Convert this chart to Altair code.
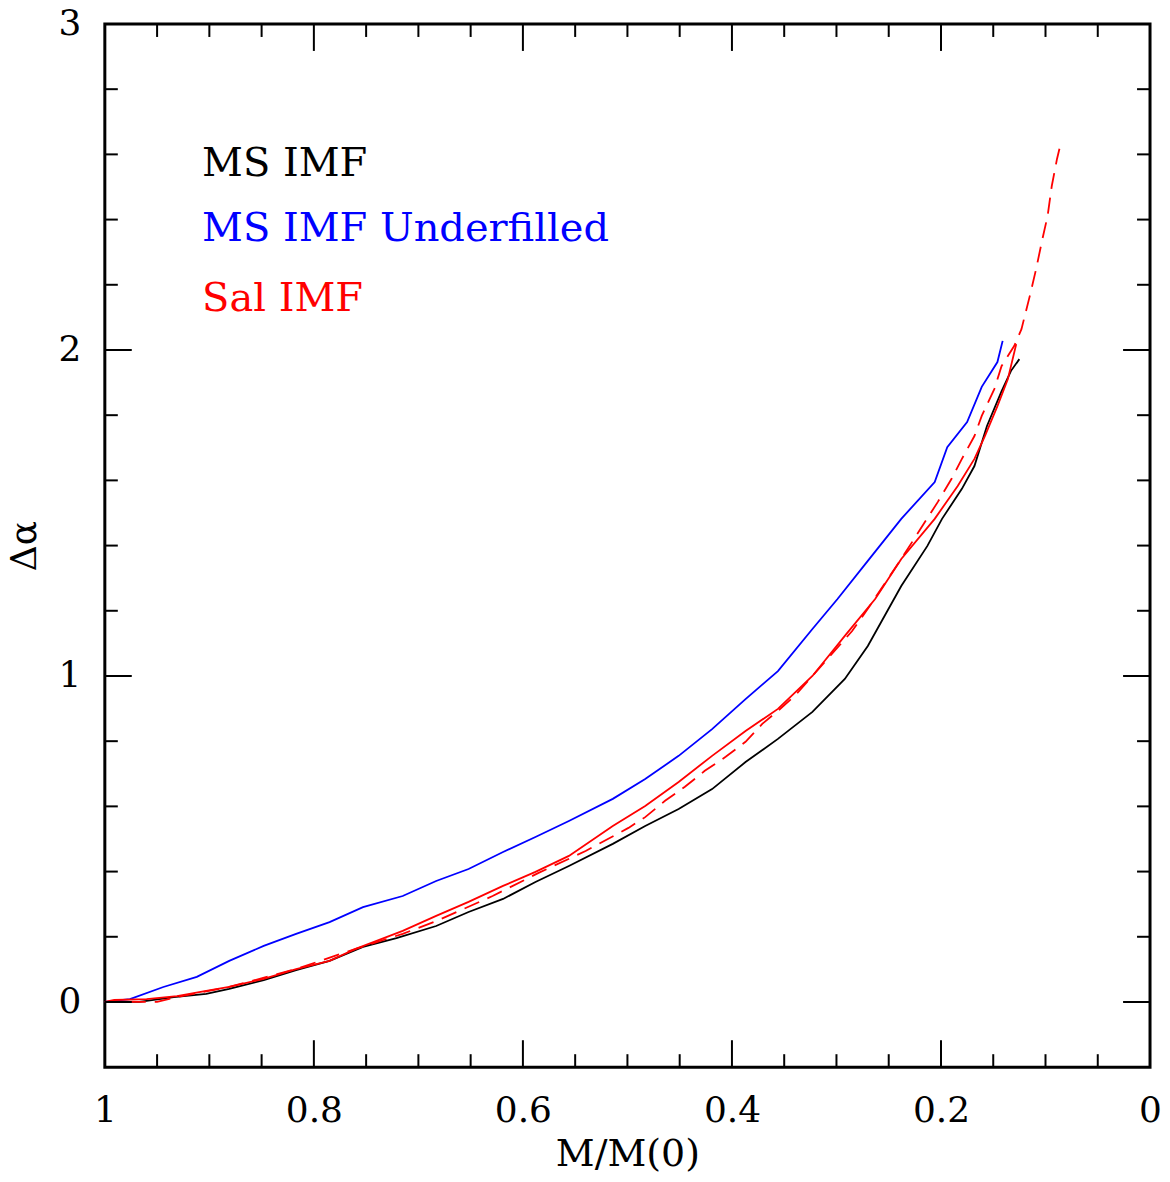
import altair as alt
import pandas as pd

# ---------------- data ----------------
ms_x = [1.0, 0.967, 0.934, 0.903, 0.881, 0.848, 0.817, 0.785, 0.753, 0.721, 0.683, 0.652,
        0.619, 0.588, 0.556, 0.514, 0.483, 0.451, 0.419, 0.387, 0.356, 0.323, 0.292, 0.270,
        0.238, 0.213, 0.199, 0.180, 0.168, 0.156, 0.142, 0.133, 0.125]
ms_y = [0.0, 0.0, 0.015, 0.025, 0.040, 0.067, 0.098, 0.126, 0.169, 0.196, 0.233, 0.276,
        0.316, 0.368, 0.417, 0.485, 0.540, 0.592, 0.653, 0.736, 0.807, 0.890, 0.991, 1.092,
        1.276, 1.399, 1.482, 1.574, 1.644, 1.767, 1.874, 1.936, 1.972]

under_x = [1.0, 0.976, 0.944, 0.912, 0.881, 0.848, 0.817, 0.785, 0.753, 0.715, 0.683, 0.652,
           0.619, 0.588, 0.556, 0.514, 0.483, 0.451, 0.419, 0.387, 0.356, 0.323, 0.299, 0.270,
           0.238, 0.206, 0.194, 0.175, 0.161, 0.146, 0.141]
under_y = [0.0, 0.009, 0.046, 0.077, 0.126, 0.172, 0.209, 0.245, 0.291, 0.325, 0.371, 0.408,
           0.460, 0.506, 0.555, 0.623, 0.684, 0.755, 0.837, 0.929, 1.015, 1.144, 1.236, 1.353,
           1.482, 1.595, 1.702, 1.779, 1.887, 1.963, 2.028]

sal_x = [1.0, 0.991, 0.960, 0.931, 0.903, 0.881, 0.848, 0.817, 0.785, 0.760, 0.715, 0.683,
         0.652, 0.619, 0.588, 0.556, 0.514, 0.483, 0.451, 0.419, 0.387, 0.356, 0.323, 0.292,
         0.263, 0.238, 0.206, 0.184, 0.168, 0.158, 0.146, 0.136, 0.128]
sal_y = [0.0, 0.006, 0.009, 0.018, 0.034, 0.046, 0.071, 0.101, 0.126, 0.163, 0.218, 0.264,
         0.307, 0.356, 0.399, 0.448, 0.540, 0.601, 0.675, 0.755, 0.831, 0.899, 1.000, 1.123,
         1.236, 1.359, 1.482, 1.583, 1.666, 1.736, 1.828, 1.911, 2.018]

sal2_x = [1.0, 0.950, 0.931, 0.881, 0.817, 0.760, 0.715, 0.683, 0.629, 0.585, 0.540, 0.499,
          0.483, 0.464, 0.445, 0.426, 0.406, 0.387, 0.371, 0.356, 0.340, 0.323, 0.285, 0.270,
          0.238, 0.203, 0.190, 0.180, 0.168, 0.161, 0.149, 0.142, 0.130, 0.123, 0.115, 0.109,
          0.103, 0.098, 0.094, 0.089, 0.086]
sal2_y = [0.0, 0.0, 0.015, 0.046, 0.101, 0.163, 0.209, 0.248, 0.325, 0.396, 0.463, 0.534,
          0.567, 0.617, 0.660, 0.709, 0.752, 0.798, 0.853, 0.893, 0.939, 1.000, 1.138, 1.206,
          1.359, 1.534, 1.604, 1.666, 1.736, 1.798, 1.880, 1.951, 2.012, 2.064, 2.166, 2.248,
          2.340, 2.411, 2.503, 2.586, 2.626]

legend_labels = ["MS IMF", "MS IMF Underfilled", "Sal IMF"]
legend_colors = ["#000000", "#0000ff", "#ff0000"]
legend_x = [0.907, 0.907, 0.907]
legend_y = [2.534, 2.334, 2.120]

x_major = [0.2, 0.4, 0.6, 0.8]
x_minor = [0.05, 0.1, 0.15, 0.25, 0.3, 0.35, 0.45, 0.5, 0.55, 0.65, 0.7, 0.75, 0.85, 0.9, 0.95]
y_major = [0.0, 1.0, 2.0]
y_minor = [0.2, 0.4, 0.6, 0.8, 1.2, 1.4, 1.6, 1.8, 2.2, 2.4, 2.6, 2.8]
x_labels = [0, 0.2, 0.4, 0.6, 0.8, 1]
y_labels = [0, 1, 2, 3]

# ---------------- layout ----------------
W, H = 1047, 1045
FONT = "DejaVu Serif"
MAJ, MIN = 27, 13

xscale = alt.Scale(domain=[0, 1], reverse=True, nice=False, zero=False)
yscale = alt.Scale(domain=[-0.2, 3.0], nice=False, zero=False)

xaxis = alt.Axis(values=x_labels, format="~g", labelFont=FONT, labelFontSize=36,
                 labelColor="black", labelPadding=26, labelFlush=False, labelOverlap=False,
                 ticks=False, tickSize=0, domain=False, grid=False,
                 title="M/M(0)", titleFont=FONT, titleFontSize=38, titleFontWeight="normal",
                 titleColor="black", titleX=W / 2, titleY=98, titleBaseline="alphabetic",
                 titleAlign="center")
yaxis = alt.Axis(values=y_labels, format="d", labelFont=FONT, labelFontSize=36,
                 labelColor="black", labelPadding=24, labelFlush=False, labelOverlap=False,
                 ticks=False, tickSize=0, domain=False, grid=False,
                 title="Δα", titleFont=FONT, titleFontSize=36, titleFontWeight="normal",
                 titleColor="black", titleAngle=270, titleX=-69, titleY=H / 2,
                 titleBaseline="alphabetic", titleAlign="center")

X = lambda f: alt.X(f, scale=xscale, axis=xaxis)
Y = lambda f: alt.Y(f, scale=yscale, axis=yaxis)


def series(xs, ys, color, dash=None):
    df = pd.DataFrame({"x": xs, "y": ys})
    kw = dict(color=color, strokeWidth=1.8)
    if dash:
        kw["strokeDash"] = dash
    return alt.Chart(df).mark_line(**kw).encode(x=X("x:Q"), y=Y("y:Q"))


def xticks(vals, length):
    df = pd.DataFrame({"v": vals})
    base = alt.Chart(df).mark_rule(color="black", strokeWidth=2)
    bottom = base.encode(x=X("v:Q"), y=alt.value(H), y2=alt.value(H - length))
    top = base.encode(x=X("v:Q"), y=alt.value(0), y2=alt.value(length))
    return bottom + top


def yticks(vals, length):
    df = pd.DataFrame({"v": vals})
    base = alt.Chart(df).mark_rule(color="black", strokeWidth=2)
    left = base.encode(y=Y("v:Q"), x=alt.value(0), x2=alt.value(length))
    right = base.encode(y=Y("v:Q"), x=alt.value(W), x2=alt.value(W - length))
    return left + right


legend_df = pd.DataFrame({"label": legend_labels, "c": legend_colors,
                          "x": legend_x, "y": legend_y})
legend = alt.Chart(legend_df).mark_text(align="left", baseline="alphabetic",
                                        font=FONT, fontSize=40).encode(
    x=X("x:Q"),
    y=Y("y:Q"),
    text="label:N",
    color=alt.Color("c:N", scale=None),
)

chart = alt.layer(
    series(ms_x, ms_y, "#000000"),
    series(under_x, under_y, "#0000ff"),
    series(sal_x, sal_y, "#ff0000"),
    series(sal2_x, sal2_y, "#ff0000", dash=[16, 9]),
    xticks(x_minor, MIN), xticks(x_major, MAJ),
    yticks(y_minor, MIN), yticks(y_major, MAJ),
    legend,
).properties(
    width=W, height=H,
    autosize=alt.AutoSizeParams(type="none"),
    padding={"left": 97, "top": 15, "right": 12, "bottom": 106},
    background="white",
).configure_view(stroke="black", strokeWidth=3)

chart.save("out.html", embed_options={"renderer": "svg", "actions": False})
